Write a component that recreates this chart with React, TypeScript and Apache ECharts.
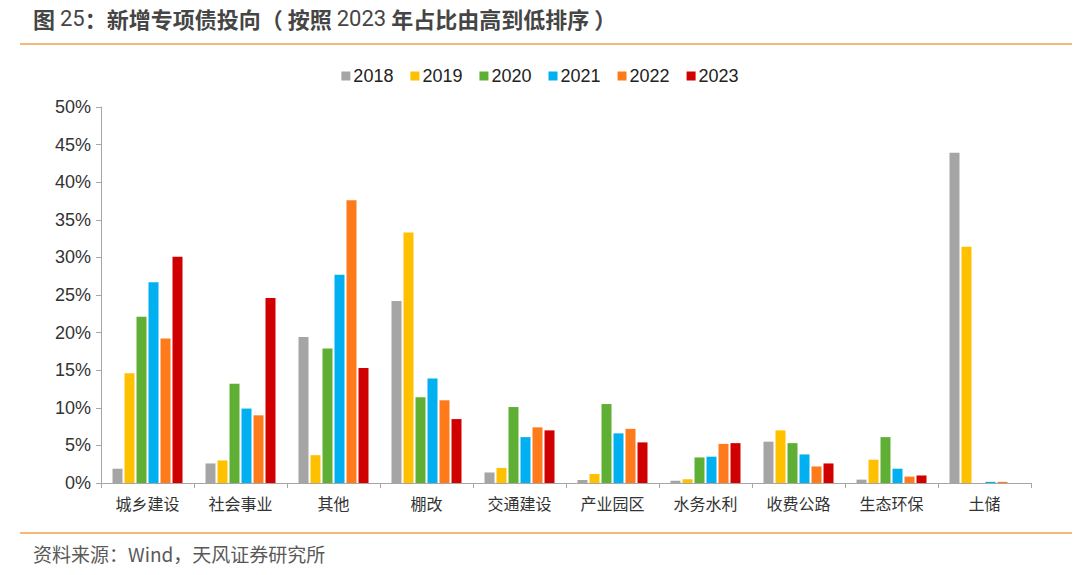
import React, { useEffect, useRef } from "react";
import * as echarts from "echarts";

const categories = ["城乡建设", "社会事业", "其他", "棚改", "交通建设", "产业园区", "水务水利", "收费公路", "生态环保", "土储"];
const years = ["2018", "2019", "2020", "2021", "2022", "2023"];
const v2018 = [1.9, 2.6, 19.4, 24.2, 1.4, 0.4, 0.3, 5.5, 0.45, 43.9];
const v2019 = [14.6, 3.0, 3.7, 33.3, 2.0, 1.2, 0.5, 7.0, 3.1, 31.4];
const v2020 = [22.1, 13.2, 17.9, 11.4, 10.1, 10.5, 3.4, 5.3, 6.1, 0];
const v2021 = [26.7, 9.9, 27.7, 13.9, 6.1, 6.6, 3.5, 3.8, 1.9, 0.15];
const v2022 = [19.2, 9.0, 37.6, 11.0, 7.4, 7.2, 5.2, 2.2, 0.85, 0.15];
const v2023 = [30.1, 24.6, 15.3, 8.5, 7.0, 5.4, 5.3, 2.6, 1.0, 0];
const seriesValues = [v2018, v2019, v2020, v2021, v2022, v2023];
const colors = ["#A5A5A5", "#FFC000", "#5FAF34", "#00B0F0", "#FF7A1A", "#D00000"];
const yTicks = [0, 5, 10, 15, 20, 25, 30, 35, 40, 45, 50];

const titleParts = [
  { t: "图 ", s: "b" },
  { t: "25", s: "n" },
  { t: "：新增专项债投向（ 按照 ", s: "b" },
  { t: "2023", s: "n" },
  { t: " 年占比由高到低排序 ）", s: "b" },
];
const sourceText = "资料来源：Wind，天风证券研究所";

export default function App() {
  const ref = useRef<HTMLDivElement>(null);
  useEffect(() => {
    if (!ref.current) return;
    const chart = echarts.init(ref.current, null, { renderer: "svg" });
    const titleRich = titleParts.map((p) => `{${p.s}|${p.t}}`).join("");
    chart.setOption({
      animation: false,
      backgroundColor: "#ffffff",
      color: colors,
      legend: {
        data: years,
        top: 62,
        left: "center",
        itemWidth: 9,
        itemHeight: 9,
        itemGap: 17,
        icon: "rect",
        textStyle: { fontSize: 18, color: "#222", fontFamily: "Liberation Sans, Arial, sans-serif", padding: [0, 0, 0, -2] },
      },
      grid: { left: 101, right: 49, top: 107, bottom: 92, containLabel: false },
      xAxis: {
        type: "category",
        data: categories,
        axisLine: { lineStyle: { color: "#A6A6A6", width: 1 } },
        axisTick: { show: true, length: 5, lineStyle: { color: "#A6A6A6" } },
        axisLabel: { fontSize: 16, color: "#333", margin: 12, fontFamily: "Noto Sans CJK SC, sans-serif" },
      },
      yAxis: {
        type: "value",
        min: 0,
        max: 50,
        interval: 5,
        axisLine: { show: true, lineStyle: { color: "#A6A6A6", width: 1 } },
        axisTick: { show: true, length: 5, lineStyle: { color: "#A6A6A6" } },
        splitLine: { show: false },
        axisLabel: {
          fontSize: 18,
          color: "#333",
          margin: 10,
          fontFamily: "Liberation Sans, Arial, sans-serif",
          formatter: (v: number) => (yTicks.includes(v) ? v + "%" : ""),
        },
      },
      series: years.map((y, i) => ({
        name: y,
        type: "bar",
        data: seriesValues[i],
        barWidth: 10,
        barGap: "20%",
        itemStyle: { color: colors[i] },
      })),
      graphic: [
        {
          type: "text",
          left: 33,
          top: 7,
          style: {
            text: titleRich,
            fontSize: 22,
            fill: "#454545",
            fontFamily: "Noto Sans CJK SC, sans-serif",
            rich: {
              b: { fontSize: 22, fontWeight: "bold", fill: "#454545", fontFamily: "Noto Sans CJK SC, sans-serif" },
              n: { fontSize: 22, fontWeight: "normal", fill: "#454545", fontFamily: "Roboto, sans-serif" },
            },
          },
        },
        {
          type: "line",
          shape: { x1: 20, y1: 44, x2: 1072, y2: 44 },
          style: { stroke: "#F5A04A", lineWidth: 1.5 },
        },
        {
          type: "line",
          shape: { x1: 20, y1: 533, x2: 1072, y2: 533 },
          style: { stroke: "#F5A04A", lineWidth: 1.5 },
        },
        {
          type: "text",
          left: 33,
          top: 544,
          style: {
            text: sourceText,
            fontSize: 19,
            fill: "#595959",
            fontFamily: "Noto Sans CJK SC, sans-serif",
          },
        },
      ],
    });
    return () => chart.dispose();
  }, []);
  return (
    <div style={{ position: "fixed", left: 0, top: 0, width: 1080, height: 575, background: "#fff" }}>
      <div ref={ref} style={{ width: 1080, height: 575 }} />
    </div>
  );
}
